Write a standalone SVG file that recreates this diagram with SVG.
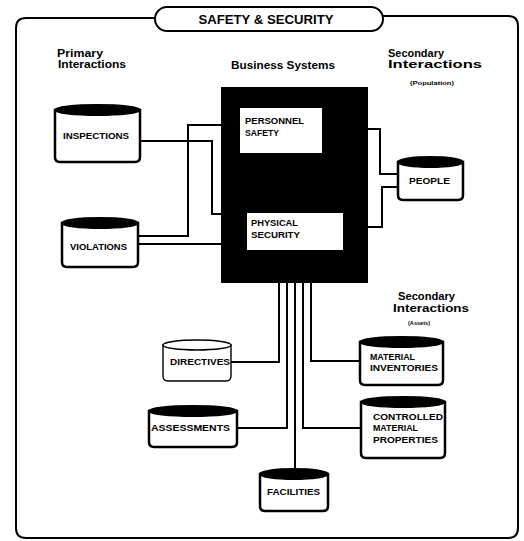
<svg xmlns="http://www.w3.org/2000/svg" width="524" height="541" viewBox="0 0 524 541">
  <style>
    .frame { fill: none; stroke: #000; stroke-width: 2; }
    .wire { fill: none; stroke: #000; stroke-width: 2; }
    .body { fill: #fff; stroke: #000; stroke-width: 2.5; }
    .cap { fill: #000; stroke: #000; stroke-width: 2; }
    .body.light { stroke-width: 1.4; }
    .cap.light { fill: #fff; stroke-width: 1.4; }
    .lbl { font-family: "Liberation Sans", Arial, sans-serif; font-weight: bold; font-size: 8.5px; fill: #000; }
    .head { font-family: "Liberation Sans", Arial, sans-serif; font-weight: bold; font-size: 10.5px; fill: #000; }
    .sub { font-family: "Liberation Sans", Arial, sans-serif; font-weight: bold; font-size: 6px; fill: #000; }
    .title { font-family: "Liberation Sans", Arial, sans-serif; font-weight: bold; font-size: 12.5px; fill: #000; }
  </style>
  <rect width="524" height="541" fill="#fff"/>

  <!-- outer frame with title pill -->
  <g id="frame">
    <path class="frame" d="M155,18 L26,18 Q16,18 16,28 L16,528 Q16,538 26,538 L508,538 Q518,538 518,528 L518,26 Q518,16 508,16 L383,16"/>
    <rect class="frame" x="155" y="7" width="228" height="24" rx="12"/>
    <text class="title" x="266" y="24" text-anchor="middle" textLength="135" lengthAdjust="spacingAndGlyphs">SAFETY &amp; SECURITY</text>
  </g>

  <!-- column headings -->
  <g id="headings">
    <text class="head" x="57" y="57" textLength="46" lengthAdjust="spacingAndGlyphs" font-weight="normal">Primary</text>
    <text class="head" x="58" y="68" textLength="68" lengthAdjust="spacingAndGlyphs" font-weight="normal">Interactions</text>
    <text class="head" x="231" y="69" textLength="104" lengthAdjust="spacingAndGlyphs">Business Systems</text>
    <text class="head" x="388" y="57" textLength="56" lengthAdjust="spacingAndGlyphs">Secondary</text>
    <text class="head" x="388" y="68" textLength="94" lengthAdjust="spacingAndGlyphs">Interactions</text>
    <text class="sub" x="410" y="85" textLength="44" lengthAdjust="spacingAndGlyphs">(Population)</text>
    <text class="head" x="398" y="300" textLength="57" lengthAdjust="spacingAndGlyphs">Secondary</text>
    <text class="head" x="393" y="312" textLength="76" lengthAdjust="spacingAndGlyphs">Interactions</text>
    <text class="sub" x="408" y="325" textLength="22" lengthAdjust="spacingAndGlyphs">(Assets)</text>
  </g>

  <!-- connectors -->
  <g id="connectors">
    <polyline class="wire" points="140,141 212,141 212,214 221,214"/>
    <polyline class="wire" points="138,236 188,236 188,125 221,125"/>
    <polyline class="wire" points="138,244 221,244"/>
    <polyline class="wire" points="368,129 380,129 380,174 398,174"/>
    <polyline class="wire" points="368,227 382,227 382,187 398,187"/>
    <polyline class="wire" points="279,283 279,362 231,362"/>
    <polyline class="wire" points="287,283 287,428 237,428"/>
    <polyline class="wire" points="295,283 295,470"/>
    <polyline class="wire" points="303,283 303,428 361,428"/>
    <polyline class="wire" points="311,283 311,361 360,361"/>
  </g>

  <!-- business systems block -->
  <g id="business-systems">
    <rect x="221" y="87" width="147" height="196" fill="#000"/>
    <g id="personnel-safety">
      <rect x="240" y="108" width="82" height="45" fill="#fff"/>
      <text class="lbl" x="245" y="124" textLength="59" lengthAdjust="spacingAndGlyphs">PERSONNEL</text>
      <text class="lbl" x="245" y="136" textLength="34" lengthAdjust="spacingAndGlyphs">SAFETY</text>
    </g>
    <g id="physical-security">
      <rect x="247" y="213" width="96" height="37" fill="#fff"/>
      <text class="lbl" x="251" y="226" textLength="47" lengthAdjust="spacingAndGlyphs">PHYSICAL</text>
      <text class="lbl" x="251" y="238" textLength="49" lengthAdjust="spacingAndGlyphs">SECURITY</text>
    </g>
  </g>

  <!-- data stores -->
  <g id="inspections">
    <path class="body" d="M55,110 L140,110 L140,157 Q140,162 135,162 L60,162 Q55,162 55,157 Z"/>
    <ellipse class="cap" cx="97.5" cy="110" rx="42.5" ry="5"/>
    <text class="lbl" x="63" y="139" textLength="66" lengthAdjust="spacingAndGlyphs">INSPECTIONS</text>
  </g>
  <g id="violations">
    <path class="body" d="M62,223 L138,223 L138,262 Q138,267 133,267 L67,267 Q62,267 62,262 Z"/>
    <ellipse class="cap" cx="100" cy="223" rx="38" ry="5"/>
    <text class="lbl" x="70" y="250" textLength="57" lengthAdjust="spacingAndGlyphs">VIOLATIONS</text>
  </g>
  <g id="people">
    <path class="body" d="M398,162 L463,162 L463,195 Q463,200 458,200 L403,200 Q398,200 398,195 Z"/>
    <ellipse class="cap" cx="430.5" cy="162" rx="32.5" ry="5"/>
    <text class="lbl" x="409" y="184" textLength="41" lengthAdjust="spacingAndGlyphs">PEOPLE</text>
  </g>
  <g id="directives">
    <path class="body light" d="M163,345 L231,345 L231,376 Q231,381 226,381 L168,381 Q163,381 163,376 Z"/>
    <ellipse class="cap light" cx="197" cy="345" rx="34" ry="5"/>
    <text class="lbl" x="170" y="365" textLength="60" lengthAdjust="spacingAndGlyphs">DIRECTIVES</text>
  </g>
  <g id="assessments">
    <path class="body" d="M149,411 L237,411 L237,442 Q237,447 232,447 L154,447 Q149,447 149,442 Z"/>
    <ellipse class="cap" cx="193" cy="411" rx="44" ry="5"/>
    <text class="lbl" x="151" y="431" textLength="79" lengthAdjust="spacingAndGlyphs">ASSESSMENTS</text>
  </g>
  <g id="facilities">
    <path class="body" d="M260,474 L328,474 L328,506 Q328,511 323,511 L265,511 Q260,511 260,506 Z"/>
    <ellipse class="cap" cx="294" cy="474" rx="34" ry="5"/>
    <text class="lbl" x="267" y="495" textLength="53" lengthAdjust="spacingAndGlyphs">FACILITIES</text>
  </g>
  <g id="material-inventories">
    <path class="body" d="M360,342 L443,342 L443,380 Q443,385 438,385 L365,385 Q360,385 360,380 Z"/>
    <ellipse class="cap" cx="401.5" cy="342" rx="41.5" ry="5"/>
    <text class="lbl" x="370" y="360" textLength="45" lengthAdjust="spacingAndGlyphs">MATERIAL</text>
    <text class="lbl" x="370" y="371" textLength="68" lengthAdjust="spacingAndGlyphs">INVENTORIES</text>
  </g>
  <g id="controlled-material-properties">
    <path class="body" d="M361,402 L445,402 L445,453 Q445,458 440,458 L366,458 Q361,458 361,453 Z"/>
    <ellipse class="cap" cx="403" cy="402" rx="42" ry="5"/>
    <text class="lbl" x="373" y="420" textLength="70" lengthAdjust="spacingAndGlyphs">CONTROLLED</text>
    <text class="lbl" x="373" y="431" textLength="45" lengthAdjust="spacingAndGlyphs">MATERIAL</text>
    <text class="lbl" x="373" y="443" textLength="65" lengthAdjust="spacingAndGlyphs">PROPERTIES</text>
  </g>
</svg>
